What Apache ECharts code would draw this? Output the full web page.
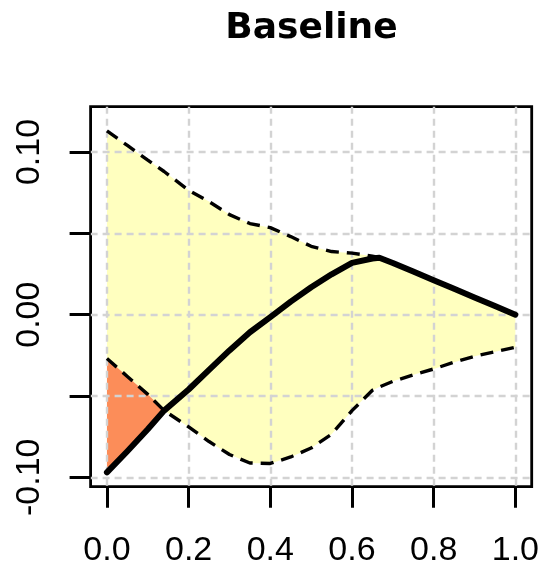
<!DOCTYPE html>
<html>
<head>
<meta charset="utf-8">
<script src="https://cdn.jsdelivr.net/npm/echarts@6/dist/echarts.min.js"></script>
<style>
  html, body { margin: 0; padding: 0; background: #ffffff; }
  #chart { width: 542px; height: 569px; }
</style>
</head>
<body>
<div id="chart"></div>
<script>
// Sample positions along the x axis
const xs     = [0, 0.05, 0.1, 0.14, 0.2, 0.25, 0.3, 0.35, 0.4, 0.45, 0.5, 0.55, 0.6, 0.65, 0.667, 0.7, 0.75, 0.8, 0.85, 0.9, 0.95, 1.0];
// Estimated curve
const centre = [-0.097, -0.084, -0.0705, -0.059, -0.046, -0.034, -0.022, -0.0108, -0.0015, 0.008, 0.0168, 0.0248, 0.0318, 0.0345, 0.035, 0.0318, 0.0265, 0.0212, 0.0159, 0.0106, 0.0053, 0];
// Upper and lower limits of the band
const upper  = [0.113, 0.104, 0.095, 0.088, 0.0765, 0.0695, 0.0615, 0.056, 0.0535, 0.048, 0.042, 0.0388, 0.0378, 0.036, 0.035, 0.0318, 0.0265, 0.0212, 0.0159, 0.0106, 0.0053, 0];
const lower  = [-0.027, -0.038, -0.049, -0.059, -0.069, -0.078, -0.086, -0.0912, -0.0915, -0.0875, -0.082, -0.0735, -0.059, -0.0465, -0.0445, -0.041, -0.037, -0.0334, -0.0292, -0.0256, -0.0228, -0.020];

const title = 'Baseline';
const xTicks = [0, 0.2, 0.4, 0.6, 0.8, 1.0];
const yTicks = [-0.10, -0.05, 0, 0.05, 0.10];
const yLabelTicks = [-0.10, 0, 0.10];

const BAND_COLOUR = '#ffffbf';
const BELOW_COLOUR = '#fc8d59';
const GRID_COLOUR = '#d3d3d3';
const LABEL_FONT = "'Liberation Sans', Arial, Helvetica, sans-serif";

function pts(ys) { return xs.map((x, i) => [x, ys[i]]); }

// Region where the curve drops below the lower limit, with the crossing
// points found by linear interpolation between samples.
function belowRegion() {
  const top = [], bottom = [];
  for (let i = 0; i < xs.length; i++) {
    const d = lower[i] - centre[i];
    if (d >= 0) { top.push([xs[i], lower[i]]); bottom.push([xs[i], centre[i]]); }
    if (i + 1 < xs.length) {
      const d2 = lower[i + 1] - centre[i + 1];
      if ((d > 0 && d2 < 0) || (d < 0 && d2 > 0)) {
        const t = d / (d - d2);
        const x = xs[i] + t * (xs[i + 1] - xs[i]);
        const y = lower[i] + t * (lower[i + 1] - lower[i]);
        top.push([x, y]); bottom.push([x, y]);
      }
    }
  }
  return top.concat(bottom.reverse());
}

function polygonSeries(name, ring, colour) {
  return {
    name: name,
    type: 'custom',
    z: 1,
    silent: true,
    data: [[0, 0]],
    renderItem: function (params, api) {
      return {
        type: 'polygon',
        shape: { points: ring.map(p => api.coord(p)) },
        style: { fill: colour, stroke: null }
      };
    }
  };
}

const bandRing = pts(upper).concat(pts(lower).reverse());

const axisCommon = {
  type: 'value',
  z: 2,
  axisLine: { show: false, onZero: false },
  axisTick: { show: true, inside: false, length: 21, lineStyle: { color: '#000', width: 3 } },
  splitLine: { show: true, lineStyle: { color: GRID_COLOUR, width: 2.4, type: [7, 5] } }
};

const chart = echarts.init(document.getElementById('chart'), null, { renderer: 'canvas' });
chart.setOption({
  animation: false,
  backgroundColor: '#ffffff',
  title: {
    text: title,
    left: 311.5,
    top: 11,
    padding: 0,
    textAlign: 'center',
    textStyle: { fontFamily: 'DejaVu Sans', fontWeight: 'bold', fontSize: 36, color: '#000' }
  },
  grid: {
    left: 90.6, right: 9.6, top: 106.7, bottom: 82.3,
    show: true, z: 2,
    borderColor: '#000', borderWidth: 2.8, backgroundColor: 'transparent'
  },
  xAxis: Object.assign({}, axisCommon, {
    min: -0.04, max: 1.04,
    axisTick: Object.assign({}, axisCommon.axisTick, { customValues: xTicks }),
    axisLabel: {
      customValues: xTicks, margin: 47,
      fontFamily: LABEL_FONT, fontSize: 34, color: '#000',
      formatter: v => v.toFixed(1)
    }
  }),
  yAxis: Object.assign({}, axisCommon, {
    min: -0.10578, max: 0.12785,
    axisTick: Object.assign({}, axisCommon.axisTick, { customValues: yTicks }),
    axisLabel: {
      customValues: yLabelTicks, margin: 44, rotate: 90,
      fontFamily: LABEL_FONT, fontSize: 34, color: '#000',
      formatter: v => v.toFixed(2)
    }
  }),
  series: [
    polygonSeries('band', bandRing, BAND_COLOUR),
    polygonSeries('below', belowRegion(), BELOW_COLOUR),
    {
      name: 'upper', type: 'line', z: 3, data: pts(upper), showSymbol: false, silent: true,
      lineStyle: { color: '#000', width: 3.4, type: [13, 8], cap: 'butt' }
    },
    {
      name: 'lower', type: 'line', z: 3, data: pts(lower), showSymbol: false, silent: true,
      lineStyle: { color: '#000', width: 3.4, type: [13, 8], cap: 'butt' }
    },
    {
      name: 'centre', type: 'line', z: 4, data: pts(centre), showSymbol: false, silent: true,
      lineStyle: { color: '#000', width: 6, cap: 'round', join: 'round' }
    }
  ]
});
</script>
</body>
</html>
